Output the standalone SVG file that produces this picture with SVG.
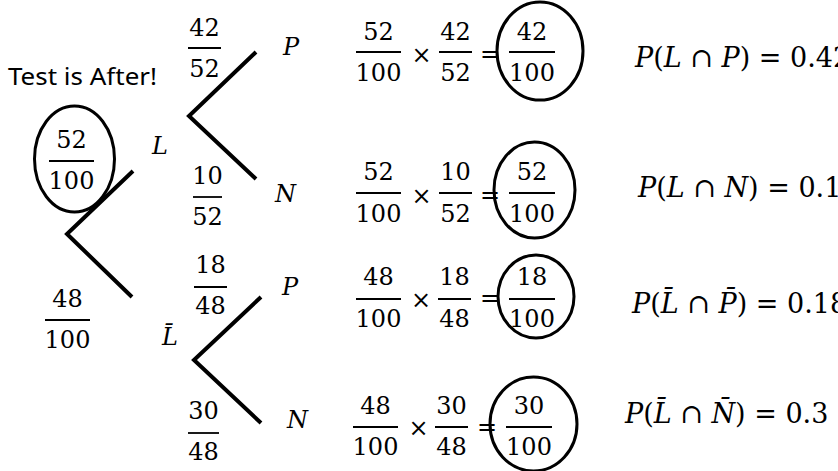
<svg xmlns="http://www.w3.org/2000/svg" width="838" height="471" viewBox="0 0 838 471">
<style>
.m{font-family:"DejaVu Serif","Liberation Serif",serif;font-size:24px;fill:#000;text-anchor:middle}
.i{font-family:"DejaVu Serif","Liberation Serif",serif;font-size:24px;font-style:italic;fill:#000}
.e{font-family:"DejaVu Serif","Liberation Serif",serif;font-size:27px;fill:#000}
.t{font-family:"Noto Sans","Open Sans",sans-serif;font-size:24px;fill:#000}
.bar{stroke:#000;stroke-width:1.8}
.ring{fill:none;stroke:#000;stroke-width:3}
.br{fill:none;stroke:#000;stroke-width:4;stroke-linejoin:miter}
</style>
<rect width="838" height="471" fill="#fff"/>
<g id="connectors">
<polyline class="br" points="133,171 67,234 132,297"/>
<polyline class="br" points="256,52 189,116 256,179"/>
<polyline class="br" points="261,297 194,360 261,423"/>
</g>
<g id="title"><text class="t" x="8" y="85" textLength="149" lengthAdjust="spacingAndGlyphs">Test is After!</text></g>
<g id="root-L-prob">
<ellipse class="ring" cx="74.5" cy="159" rx="40" ry="53"/>
<text class="m" x="71.5" y="148">52</text><line class="bar" x1="49" y1="161" x2="94" y2="161"/><text class="m" x="71.5" y="189">100</text>
</g>
<g id="root-Lbar-prob">
<text class="m" x="67.5" y="307">48</text><line class="bar" x1="45" y1="320" x2="90" y2="320"/><text class="m" x="67.5" y="348">100</text>
</g>
<g id="node-L"><text class="i" x="152" y="154">L</text></g>
<g id="node-Lbar"><text class="i" x="162" y="345">L̄</text></g>
<g id="prob-LP">
<text class="m" x="204.5" y="36">42</text><line class="bar" x1="188" y1="48" x2="221" y2="48"/><text class="m" x="204.5" y="77">52</text>
</g>
<g id="prob-LN">
<text class="m" x="207.5" y="184">10</text><line class="bar" x1="193" y1="197" x2="222" y2="197"/><text class="m" x="207.5" y="225">52</text>
</g>
<g id="prob-LbarP">
<text class="m" x="210.5" y="273">18</text><line class="bar" x1="194" y1="287" x2="227" y2="287"/><text class="m" x="210.5" y="314">48</text>
</g>
<g id="prob-LbarN">
<text class="m" x="203.5" y="419">30</text><line class="bar" x1="188" y1="433" x2="219" y2="433"/><text class="m" x="203.5" y="460">48</text>
</g>
<g id="node-P1"><text class="i" x="283" y="55">P</text></g>
<g id="node-N1"><text class="i" x="275" y="202">N</text></g>
<g id="node-P2"><text class="i" x="282" y="295">P</text></g>
<g id="node-N2"><text class="i" x="287" y="428">N</text></g>
<g id="calc-1">
<text class="m" x="378.5" y="40">52</text><line class="bar" x1="356" y1="52" x2="401" y2="52"/><text class="m" x="378.5" y="81">100</text>
<text class="m" x="421.5" y="63">×</text>
<text class="m" x="455.5" y="40">42</text><line class="bar" x1="439" y1="52" x2="472" y2="52"/><text class="m" x="455.5" y="81">52</text>
<text class="m" x="490" y="62">=</text>
<ellipse class="ring" cx="540" cy="51" rx="43" ry="49"/>
<text class="m" x="532" y="40">42</text><line class="bar" x1="509" y1="52" x2="555" y2="52"/><text class="m" x="532" y="81">100</text>
</g>
<g id="calc-2">
<text class="m" x="378.5" y="180">52</text><line class="bar" x1="356" y1="193" x2="401" y2="193"/><text class="m" x="378.5" y="222">100</text>
<text class="m" x="421.5" y="204">×</text>
<text class="m" x="455.5" y="180">10</text><line class="bar" x1="439" y1="193" x2="472" y2="193"/><text class="m" x="455.5" y="222">52</text>
<text class="m" x="490" y="203">=</text>
<ellipse class="ring" cx="534.5" cy="190" rx="40.5" ry="48"/>
<text class="m" x="532" y="180">52</text><line class="bar" x1="509" y1="193" x2="555" y2="193"/><text class="m" x="532" y="222">100</text>
</g>
<g id="calc-3">
<text class="m" x="378.5" y="285">48</text><line class="bar" x1="356" y1="299" x2="401" y2="299"/><text class="m" x="378.5" y="327">100</text>
<text class="m" x="421" y="308">×</text>
<text class="m" x="454.5" y="285">18</text><line class="bar" x1="438" y1="299" x2="471" y2="299"/><text class="m" x="454.5" y="327">48</text>
<text class="m" x="490" y="306">=</text>
<ellipse class="ring" cx="536" cy="296.5" rx="38" ry="41.5"/>
<text class="m" x="532" y="285">18</text><line class="bar" x1="509" y1="299" x2="555" y2="299"/><text class="m" x="532" y="327">100</text>
</g>
<g id="calc-4">
<text class="m" x="375.5" y="414">48</text><line class="bar" x1="353" y1="427" x2="398" y2="427"/><text class="m" x="375.5" y="455">100</text>
<text class="m" x="418.5" y="436">×</text>
<text class="m" x="451.5" y="414">30</text><line class="bar" x1="435" y1="427" x2="468" y2="427"/><text class="m" x="451.5" y="455">48</text>
<text class="m" x="487" y="435">=</text>
<ellipse class="ring" cx="533.5" cy="424" rx="43.5" ry="47"/>
<text class="m" x="529" y="414">30</text><line class="bar" x1="506" y1="427" x2="552" y2="427"/><text class="m" x="529" y="455">100</text>
</g>
<g id="result-1"><text class="e" x="635" y="67"><tspan font-style="italic">P</tspan>(<tspan font-style="italic">L</tspan> ∩ <tspan font-style="italic">P</tspan>) = 0.42</text></g>
<g id="result-2"><text class="e" x="638" y="197"><tspan font-style="italic">P</tspan>(<tspan font-style="italic">L</tspan> ∩ <tspan font-style="italic">N</tspan>) = 0.1</text></g>
<g id="result-3"><text class="e" x="632" y="313"><tspan font-style="italic">P</tspan>(<tspan font-style="italic">L̄</tspan> ∩ <tspan font-style="italic">P̄</tspan>) = 0.18</text></g>
<g id="result-4"><text class="e" x="625" y="423"><tspan font-style="italic">P</tspan>(<tspan font-style="italic">L̄</tspan> ∩ <tspan font-style="italic">N̄</tspan>) = 0.3</text></g>
</svg>
